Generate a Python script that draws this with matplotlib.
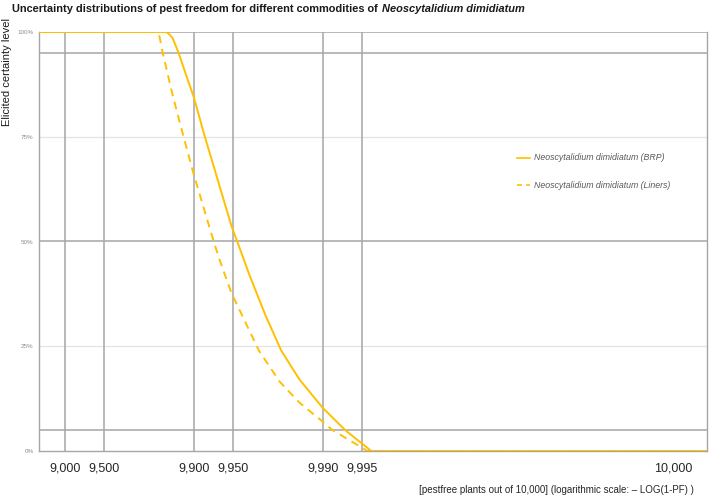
import numpy as np
import matplotlib
matplotlib.use("Agg")
import matplotlib.pyplot as plt

# pest-free plants out of 10,000 vs elicited certainty (%)
brp_plants = [8415, 9832, 9841, 9854, 9869, 9886, 9900, 9918, 9949, 9954,
              9963, 9972.3, 9979, 9984.9, 9990, 9993.3, 9995.8, 9999.99]
brp_cert = [100, 100, 99.8, 98.6, 95, 89.5, 84.5, 75, 53.7, 50,
            42.0, 32.3, 24, 17.0, 10.3, 5, 0, 0]
lin_plants = [8415, 9810, 9816, 9826, 9854, 9880, 9900, 9930, 9937, 9949,
              9968.7, 9978.5, 9984.9, 9990, 9991.6, 9995.5, 9999.99]
lin_cert = [100, 100, 98.8, 95, 85, 75, 66, 50, 45.6, 37.7,
            24, 16.5, 11.5, 7, 5, 0, 0]

tick_plants = [9000, 9500, 9900, 9950, 9990, 9995]
tick_labels = ["9,000", "9,500", "9,900", "9,950", "9,990", "9,995"]
y_ticks = [0, 25, 50, 75, 100]
y_labels = ["0%", "25%", "50%", "75%", "100%"]
dark_lines = [5, 50, 95, 100]
light_lines = [25, 75]

labels = ["Neoscytalidium dimidiatum (BRP)", "Neoscytalidium dimidiatum (Liners)"]
GOLD = "#FFC000"
GRID = "#a6a6a6"
plt.rcParams['font.family'] = ['Liberation Sans', 'DejaVu Sans']


def to_log(n):
    # -LOG(1-PF)
    return -np.log10(1 - np.asarray(n, dtype=float) / 10000)


fig = plt.figure(figsize=(7.09, 4.98), dpi=100)
ax = fig.add_axes([39 / 709, 1 - 451 / 498, (707 - 39) / 709, (451 - 32) / 498])
ax.set_xlim(0.8, 5.98)
ax.set_ylim(0, 100)

for y in light_lines:
    ax.axhline(y, color="#e3e3e3", lw=0.9, zorder=1)
for y in dark_lines:
    ax.axhline(y, color=GRID, lw=1.1, zorder=1)
for t in to_log(tick_plants):
    ax.axvline(t, color=GRID, lw=1.1, zorder=1)

ax.plot(to_log(brp_plants), brp_cert, color=GOLD, lw=1.4, zorder=3)
ax.plot(to_log(lin_plants), lin_cert, color=GOLD, lw=1.4, ls=(0, (4, 3)), zorder=3)

for s in ax.spines.values():
    s.set_color(GRID)
    s.set_linewidth(1.0)
ax.spines["top"].set_visible(False)

ax.set_yticks(y_ticks)
ax.set_yticklabels(y_labels, fontsize=4.5, color="#8c8c8c")
ax.tick_params(axis="y", length=0, pad=4)
ax.set_xticks(list(to_log(tick_plants)) + [5.72])
ax.set_xticklabels(tick_labels + ["10,000"], fontsize=9, color="#262626")
ax.tick_params(axis="x", length=0, pad=8)

# legend drawn by hand to the right of the curves
for i, (lab, ls) in enumerate(zip(labels, ["-", (0, (3, 2.5))])):
    yy = 1 - (158 + 27 * i) / 498
    fig.add_artist(plt.Line2D([517 / 709, 530 / 709], [yy, yy], color=GOLD, lw=1.2, ls=ls))
    fig.text(534 / 709, yy, lab, fontsize=6.3, style="italic", color="#595959", va="center")

fig.text(7 / 709, 1 - 72 / 498, "Elicited certainty level", rotation=90, fontsize=8,
         va="center", ha="center", color="#1a1a1a")
fig.text(556 / 709, 1 - 490 / 498, "[pestfree plants out of 10,000] (logarithmic scale: \u2013 LOG(1-PF) )",
         fontsize=7, ha="center", va="center", color="#262626")

# title: bold part plus bold italic species name
t1 = fig.text(12 / 709, 1 - 9 / 498, "Uncertainty distributions of pest freedom for different commodities of ",
              fontsize=7.9, weight="bold", va="center", color="#1a1a1a")
fig.canvas.draw()
bb = t1.get_window_extent(fig.canvas.get_renderer())
fig.text(bb.x1 / fig.bbox.width + 0.002, 1 - 9 / 498, "Neoscytalidium dimidiatum",
         fontsize=7.9, weight="bold", style="italic", va="center", color="#1a1a1a")

fig.savefig("out.png", dpi=100)
